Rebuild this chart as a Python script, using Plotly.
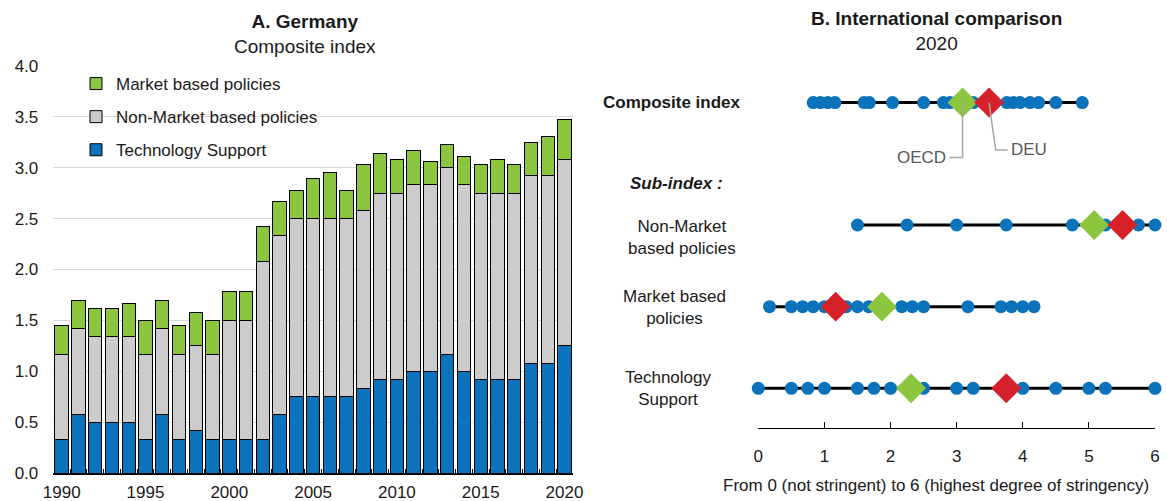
import plotly.graph_objects as go

# ---------------- Data: Panel A (Germany, composite index, stacked) ----------------
years = list(range(1990, 2021))
tech_support = [0.33, 0.58, 0.50, 0.50, 0.50, 0.33, 0.58, 0.33, 0.42, 0.33,
                0.33, 0.33, 0.33, 0.58, 0.75, 0.75, 0.75, 0.75, 0.83, 0.92,
                0.92, 1.00, 1.00, 1.17, 1.00, 0.92, 0.92, 0.92, 1.08, 1.08, 1.25]
non_market = [0.84, 0.84, 0.84, 0.84, 0.84, 0.84, 0.84, 0.84, 0.83, 0.84,
              1.17, 1.17, 1.75, 1.75, 1.75, 1.75, 1.75, 1.75, 1.75, 1.83,
              1.83, 1.83, 1.83, 1.83, 1.83, 1.83, 1.83, 1.83, 1.84, 1.84, 1.83]
market_based = [0.28, 0.28, 0.28, 0.28, 0.33, 0.33, 0.28, 0.28, 0.33, 0.33,
                0.28, 0.28, 0.34, 0.34, 0.28, 0.39, 0.45, 0.28, 0.45, 0.39,
                0.33, 0.34, 0.23, 0.23, 0.28, 0.28, 0.33, 0.28, 0.33, 0.39, 0.39]
year_ticktext = [str(y) if y % 5 == 0 else "" for y in years]

# ---------------- Data: Panel B (international comparison, 2020) ----------------
composite_countries = [0.83, 0.94, 1.05, 1.16, 1.60, 1.68, 2.03, 2.50, 2.80, 2.90,
                       3.25, 3.76, 3.86, 3.96, 4.11, 4.24, 4.50, 4.90]
nonmarket_countries = [1.50, 2.25, 3.00, 3.75, 4.75, 5.25, 5.75, 6.00]
market_countries = [0.17, 0.50, 0.67, 0.83, 1.00, 1.33, 1.50, 1.67, 2.17, 2.33,
                    2.50, 3.17, 3.67, 3.83, 4.00, 4.17]
tech_countries = [0.00, 0.50, 0.75, 1.00, 1.50, 1.75, 2.00, 2.25, 2.50, 3.00, 3.25,
                  4.00, 4.50, 5.00, 5.25, 6.00]
oecd_values = [3.09, 5.08, 1.87, 2.31]   # composite, non-market, market, tech
deu_values = [3.49, 5.51, 1.17, 3.75]
x_ticks_b = [0, 1, 2, 3, 4, 5, 6]

# ---------------- Styling / layout constants ----------------
W, H = 1167, 501
FONT = "Liberation Sans, Arial, sans-serif"
FS = 17
TXT = "#1a1a1a"
BLUE = "#0b73bc"
GREY = "#cccccc"
GREEN = "#8cc63f"
RED = "#d7212a"
LEADER = "#a6a6a6"

def px_x(p):
    return p / W

def px_y(p):
    return 1 - p / H

row_pos = [3.5, 2.0, 1.0, 0.0]   # composite, non-market, market, tech

fig = go.Figure()

# Panel A bars
for name, vals, col, rank in [("Technology Support", tech_support, BLUE, 3),
                              ("Non-Market based policies", non_market, GREY, 2),
                              ("Market based policies", market_based, GREEN, 1)]:
    fig.add_trace(go.Bar(x=[str(y) for y in years], y=vals, name=name, legendgroup=name,
                         legendrank=rank,
                         marker=dict(color=col, line=dict(color="#000000", width=1)),
                         xaxis="x", yaxis="y"))

# Panel B rows
rows = [composite_countries, nonmarket_countries, market_countries, tech_countries]
for pos, vals in zip(row_pos, rows):
    fig.add_trace(go.Scatter(x=[min(vals), max(vals)], y=[pos, pos], mode="lines",
                             line=dict(color="#000000", width=3), showlegend=False,
                             hoverinfo="skip", xaxis="x2", yaxis="y2", cliponaxis=False))
    fig.add_trace(go.Scatter(x=vals, y=[pos] * len(vals), mode="markers",
                             marker=dict(color=BLUE, size=13, line=dict(width=0)),
                             showlegend=False, xaxis="x2", yaxis="y2", cliponaxis=False))

fig.add_trace(go.Scatter(x=oecd_values, y=row_pos, mode="markers",
                         marker=dict(symbol="diamond", color=GREEN, size=23, line=dict(width=0)),
                         showlegend=False, name="OECD", xaxis="x2", yaxis="y2", cliponaxis=False))
fig.add_trace(go.Scatter(x=deu_values, y=row_pos, mode="markers",
                         marker=dict(symbol="diamond", color=RED, size=23, line=dict(width=0)),
                         showlegend=False, name="DEU", xaxis="x2", yaxis="y2", cliponaxis=False))

# Leader lines for OECD / DEU labels (anchored on composite values)
o = oecd_values[0]
d = deu_values[0]
fig.add_trace(go.Scatter(x=[o, o, o - 0.2], y=[row_pos[0], 2.826, 2.826], mode="lines",
                         line=dict(color=LEADER, width=1.5), showlegend=False,
                         hoverinfo="skip", xaxis="x2", yaxis="y2"))
fig.add_trace(go.Scatter(x=[d, d + 0.1, d + 0.28], y=[row_pos[0], 2.92, 2.92], mode="lines",
                         line=dict(color=LEADER, width=1.5), showlegend=False,
                         hoverinfo="skip", xaxis="x2", yaxis="y2"))

annotations = [
    dict(text="<b>A. Germany</b><br>Composite index", x=px_x(305), y=px_y(34),
         xref="paper", yref="paper", showarrow=False, xanchor="center", yanchor="middle",
         font=dict(size=19, color=TXT, family=FONT)),
    dict(text="<b>B. International comparison</b><br>2020", x=px_x(936), y=px_y(31),
         xref="paper", yref="paper", showarrow=False, xanchor="center", yanchor="middle",
         font=dict(size=19, color=TXT, family=FONT)),
    dict(text="<b>Composite index</b>", x=px_x(672), y=row_pos[0], xref="paper", yref="y2",
         showarrow=False, xanchor="center", yanchor="middle",
         font=dict(size=FS, color=TXT, family=FONT)),
    dict(text="<b><i>Sub-index :</i></b>", x=px_x(676), y=2.514, xref="paper", yref="y2",
         showarrow=False, xanchor="center", yanchor="middle",
         font=dict(size=FS, color=TXT, family=FONT)),
    dict(text="Non-Market<br>based policies", x=px_x(682), y=1.85, xref="paper", yref="y2",
         showarrow=False, xanchor="center", yanchor="middle",
         font=dict(size=FS, color=TXT, family=FONT)),
    dict(text="Market based<br>policies", x=px_x(674), y=0.99, xref="paper", yref="y2",
         showarrow=False, xanchor="center", yanchor="middle",
         font=dict(size=FS, color=TXT, family=FONT)),
    dict(text="Technology<br>Support", x=px_x(668), y=0.0, xref="paper", yref="y2",
         showarrow=False, xanchor="center", yanchor="middle",
         font=dict(size=FS, color=TXT, family=FONT)),
    dict(text="OECD", x=o - 0.22, y=2.826, xref="x2", yref="y2", showarrow=False,
         xanchor="right", yanchor="middle", font=dict(size=FS, color="#595959", family=FONT)),
    dict(text="DEU", x=d + 0.3, y=2.92, xref="x2", yref="y2", showarrow=False,
         xanchor="left", yanchor="middle", font=dict(size=FS, color="#595959", family=FONT)),
    dict(text="From 0 (not stringent) to 6 (highest degree of stringency)", x=px_x(936),
         y=px_y(485), xref="paper", yref="paper", showarrow=False, xanchor="center",
         yanchor="middle", font=dict(size=FS, color=TXT, family=FONT)),
]

fig.update_layout(
    template="none",
    width=W, height=H,
    margin=dict(l=0, r=0, t=0, b=0, autoexpand=False),
    paper_bgcolor="white", plot_bgcolor="white",
    font=dict(family=FONT, size=FS, color=TXT),
    barmode="stack", bargap=0.2,
    showlegend=True,
    legend=dict(x=px_x(76), y=px_y(66), xanchor="left", yanchor="top",
                traceorder="grouped", tracegroupgap=8,
                bgcolor="rgba(0,0,0,0)", borderwidth=0,
                font=dict(size=FS, color=TXT, family=FONT)),
    xaxis=dict(domain=[px_x(53.3), px_x(572.9)], type="category",
               tickmode="array", tickvals=[str(y) for y in years], ticktext=year_ticktext,
               tickson="boundaries", ticks="inside", ticklen=5, tickwidth=1.3,
               tickcolor="#000000", showline=True, linecolor="#000000", linewidth=1.5,
               showgrid=False, zeroline=False, anchor="y", ticklabelstandoff=3,
               tickangle=0, automargin=False, tickfont=dict(size=FS, color=TXT)),
    yaxis=dict(domain=[px_y(473.3), px_y(65.7)], range=[0, 4], dtick=0.5,
               tickformat=".1f", showgrid=True, gridcolor="#d9d9d9", gridwidth=1.3,
               zeroline=False, showline=False, ticks="", anchor="x", automargin=False,
               ticklabelstandoff=14, tickfont=dict(size=FS, color=TXT)),
    xaxis2=dict(domain=[px_x(758.3), px_x(1155)], range=[0, 6], tickmode="array",
                tickvals=x_ticks_b, ticks="inside", ticklen=6, tickwidth=1.3,
                tickcolor="#000000", showline=True, linecolor="#000000", linewidth=1.3,
                showgrid=False, zeroline=False, anchor="y2", ticklabelstandoff=12,
                tickangle=0, automargin=False, tickfont=dict(size=FS, color=TXT)),
    yaxis2=dict(domain=[px_y(428.3), px_y(60)], range=[-0.49, 4.021],
                showgrid=False, zeroline=False, showline=False, showticklabels=False,
                ticks="", anchor="x2", automargin=False),
    annotations=annotations,
)

fig.write_html("out.html", config={"displayModeBar": False},
               post_script="document.body.style.margin='0';document.body.style.padding='0';")
